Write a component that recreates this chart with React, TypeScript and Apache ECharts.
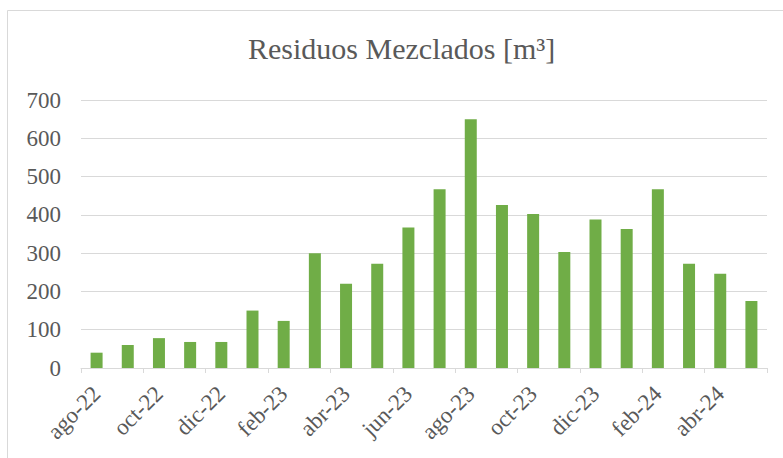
import React, { useEffect, useRef } from "react";
import * as echarts from "echarts";

const titleText = "Residuos Mezclados [m³]";
const months = [
  "ago-22", "sep-22", "oct-22", "nov-22", "dic-22", "ene-23", "feb-23", "mar-23",
  "abr-23", "may-23", "jun-23", "jul-23", "ago-23", "sep-23", "oct-23", "nov-23",
  "dic-23", "ene-24", "feb-24", "mar-24", "abr-24", "may-24",
];
const values = [40, 60, 78, 68, 68, 150, 123, 300, 220, 272, 367, 467, 650, 426, 402, 303, 388, 363, 467, 272, 246, 175];
const yTicks = [0, 100, 200, 300, 400, 500, 600, 700];

const FONT = "'Liberation Serif', 'Times New Roman', serif";
const TEXT = "#595959";
const GRID = "#d9d9d9";

export default function App() {
  const ref = useRef<HTMLDivElement>(null);
  useEffect(() => {
    if (!ref.current) return;
    const chart = echarts.init(ref.current, null, { renderer: "svg" });
    chart.setOption({
      animation: false,
      backgroundColor: "#ffffff",
      graphic: [
        {
          type: "rect",
          shape: { x: 7.5, y: 10.5, width: 900, height: 600 },
          style: { fill: "none", stroke: GRID, lineWidth: 1 },
          silent: true,
        },
      ],
      title: {
        text: titleText,
        left: 243,
        top: 28,
        textStyle: { fontFamily: FONT, fontSize: 30, fontWeight: "normal", color: TEXT },
      },
      grid: { left: 81, right: 16, top: 100, bottom: 90, containLabel: false },
      xAxis: {
        type: "category",
        data: months,
        boundaryGap: true,
        axisLine: { lineStyle: { color: GRID, width: 1 } },
        axisTick: { show: true, interval: 1, length: 5, lineStyle: { color: GRID } },
        axisLabel: {
          interval: 1,
          rotate: 45,
          margin: 22,
          fontFamily: FONT,
          fontSize: 23,
          color: TEXT,
        },
      },
      yAxis: {
        type: "value",
        min: yTicks[0],
        max: yTicks[yTicks.length - 1],
        interval: 100,
        axisLine: { show: false },
        axisTick: { show: false },
        splitLine: { lineStyle: { color: GRID, width: 1 } },
        axisLabel: { margin: 20, fontFamily: FONT, fontSize: 23, color: TEXT },
      },
      series: [
        {
          type: "bar",
          data: values,
          barWidth: 12,
          itemStyle: { color: "#70AD47" },
        },
      ],
    });
    return () => chart.dispose();
  }, []);
  return (
    <div
      ref={ref}
      style={{ position: "fixed", left: 0, top: 0, width: 783, height: 458, background: "#fff" }}
    />
  );
}
